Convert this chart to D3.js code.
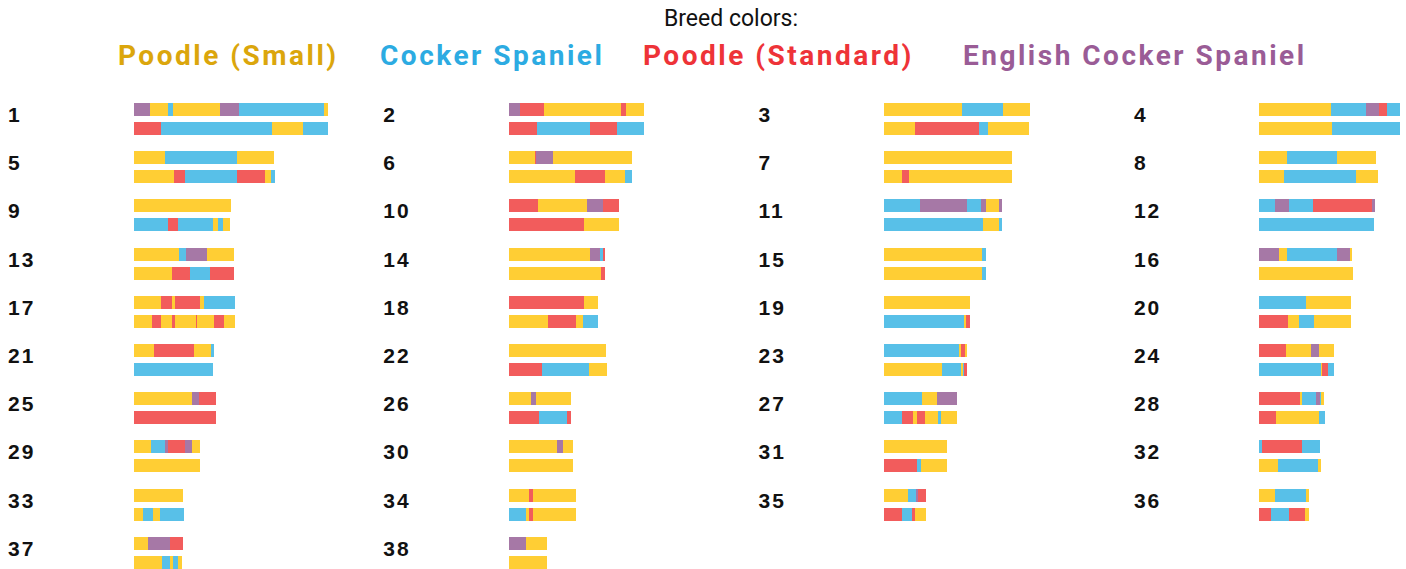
<!DOCTYPE html>
<html>
<head>
<meta charset="utf-8">
<script src="https://cdn.jsdelivr.net/npm/d3@7"></script>
<style>
  body { margin: 0; background: #fff; }
  svg { display: block; }
</style>
</head>
<body>
<div id="chart"></div>
<script>
'use strict';

// breed codes -> names and colours
var breedCodes = ['S', 'C', 'P', 'E'];
var breedNames = ['Poodle (Small)', 'Cocker Spaniel', 'Poodle (Standard)', 'English Cocker Spaniel'];
var barColors = ['#ffce34', '#58c0e8', '#f25c5c', '#a678a6'];
var labelColors = ['#dba60c', '#2cabe2', '#ee3338', '#9a5c96'];

var chromosomes = d3.range(1, 39);

// segment lengths (Mb) along each copy
var copyA = [
  [['E', 10.1], ['S', 11.9], ['C', 3.1], ['S', 29.6], ['E', 11.9], ['C', 53.5], ['S', 1.9]],
  [['E', 6.9], ['P', 15.1], ['S', 48.4], ['P', 3.1], ['S', 11.3]],
  [['S', 49.1], ['C', 25.8], ['S', 17.0]],
  [['S', 45.3], ['C', 22.0], ['E', 8.2], ['P', 5.0], ['C', 8.2]],
  [['S', 19.5], ['C', 45.3], ['S', 23.3]],
  [['S', 16.4], ['P', 1.0], ['E', 10.3], ['S', 49.7]],
  [['S', 80.5]],
  [['S', 17.6], ['C', 31.4], ['S', 24.5]],
  [['S', 61.0]],
  [['P', 18.2], ['S', 30.8], ['E', 10.1], ['P', 10.1]],
  [['C', 22.6], ['E', 29.6], ['C', 8.8], ['E', 3.1], ['S', 8.2], ['E', 1.9]],
  [['C', 10.1], ['E', 8.8], ['C', 14.5], ['P', 37.7], ['E', 1.3]],
  [['S', 28.9], ['C', 4.4], ['E', 13.2], ['S', 16.4]],
  [['S', 50.9], ['E', 6.3], ['C', 1.9], ['P', 1.3]],
  [['S', 61.6], ['C', 2.5]],
  [['E', 12.6], ['S', 5.0], ['C', 31.4], ['E', 8.2], ['S', 1.3]],
  [['S', 17.6], ['P', 6.3], ['S', 2.5], ['P', 15.7], ['S', 2.5], ['C', 19.5]],
  [['P', 47.2], ['S', 8.8]],
  [['S', 54.1]],
  [['C', 29.6], ['S', 28.3]],
  [['S', 12.6], ['P', 25.2], ['S', 10.7], ['C', 1.9]],
  [['S', 61.0]],
  [['C', 47.2], ['S', 1.3], ['P', 2.5], ['S', 1.3]],
  [['P', 17.0], ['S', 15.7], ['E', 5.0], ['S', 9.4]],
  [['S', 36.5], ['E', 4.6], ['P', 10.5]],
  [['S', 13.8], ['E', 3.1], ['S', 22.0]],
  [['C', 23.9], ['S', 9.4], ['E', 12.6]],
  [['P', 25.8], ['S', 1.3], ['C', 8.8], ['E', 2.5], ['C', 0.6], ['S', 1.9]],
  [['S', 11.3], ['C', 8.8], ['E', 1.9], ['P', 10.1], ['E', 5.0], ['S', 5.0]],
  [['S', 30.2], ['E', 3.8], ['S', 6.3]],
  [['S', 39.6]],
  [['C', 1.9], ['P', 25.2], ['C', 11.3]],
  [['S', 31.4]],
  [['S', 12.6], ['P', 2.5], ['S', 27.0]],
  [['S', 15.1], ['C', 5.0], ['E', 1.3], ['P', 5.0]],
  [['S', 10.1], ['C', 18.9], ['S', 1.9]],
  [['S', 9.4], ['E', 13.8], ['P', 8.2]],
  [['E', 10.7], ['S', 13.2]]
];

var copyB = [
  [['P', 17.6], ['C', 69.2], ['S', 19.5], ['C', 15.7]],
  [['P', 17.6], ['C', 33.3], ['P', 17.0], ['C', 17.0]],
  [['S', 19.5], ['P', 40.3], ['C', 5.7], ['S', 25.8]],
  [['S', 45.9], ['C', 42.8]],
  [['S', 25.2], ['P', 7.5], ['C', 32.7], ['P', 17.0], ['S', 3.8], ['C', 2.5]],
  [['S', 41.5], ['P', 18.9], ['S', 12.6], ['C', 4.4]],
  [['S', 11.3], ['P', 4.4], ['S', 64.8]],
  [['S', 15.7], ['C', 45.3], ['S', 13.8]],
  [['C', 21.4], ['P', 6.3], ['C', 22.6], ['S', 3.1], ['C', 3.1], ['S', 4.4]],
  [['P', 47.2], ['S', 22.0]],
  [['C', 62.3], ['S', 10.1], ['C', 1.9]],
  [['C', 72.3]],
  [['S', 24.5], ['P', 11.3], ['C', 12.6], ['P', 14.5]],
  [['S', 57.9], ['P', 2.5]],
  [['S', 61.6], ['C', 2.5]],
  [['S', 59.1]],
  [['S', 11.9], ['P', 5.7], ['S', 6.3], ['P', 2.5], ['S', 13.2], ['P', 0.6], ['S', 10.7], ['P', 6.3], ['S', 6.9]],
  [['S', 24.5], ['P', 17.6], ['S', 4.4], ['C', 9.4]],
  [['C', 50.3], ['S', 1.3], ['P', 2.5]],
  [['P', 18.2], ['S', 6.9], ['C', 9.4], ['S', 23.3]],
  [['C', 50.3]],
  [['P', 20.8], ['C', 29.6], ['S', 11.3]],
  [['S', 36.5], ['C', 11.9], ['S', 1.3], ['C', 0.6], ['P', 1.9]],
  [['C', 39.0], ['S', 0.6], ['P', 3.8], ['C', 3.8]],
  [['P', 51.6]],
  [['P', 18.9], ['C', 17.6], ['P', 2.5]],
  [['C', 11.3], ['P', 6.9], ['S', 2.5], ['P', 5.0], ['S', 8.2], ['C', 1.9], ['S', 10.1]],
  [['P', 10.7], ['S', 27.0], ['C', 3.8]],
  [['S', 42.1]],
  [['S', 40.3]],
  [['P', 20.8], ['C', 2.5], ['S', 16.4]],
  [['S', 11.9], ['C', 25.2], ['S', 1.9]],
  [['S', 5.7], ['C', 6.3], ['S', 4.4], ['C', 15.1]],
  [['C', 10.7], ['S', 1.9], ['P', 2.5], ['S', 27.0]],
  [['P', 11.3], ['C', 6.3], ['P', 1.9], ['S', 6.9]],
  [['P', 7.5], ['C', 11.3], ['P', 10.1], ['S', 2.5]],
  [['S', 18.2], ['C', 5.0], ['S', 1.9], ['C', 3.1], ['S', 2.5]],
  [['S', 23.9]]
];

var width = 1406;
var height = 569;

var svg = d3.select('#chart').append('svg').attr('width', width).attr('height', height);

var color = d3.scaleOrdinal().domain(breedCodes).range(barColors);
var x = d3.scaleLinear().domain([0, 122]).range([0, 194]);

var cols = 4;
var colX = d3.scaleLinear().domain([0, 1]).range([8, 383.3]);
var rowY = d3.scaleLinear().domain([0, 1]).range([103, 151.2]);
var barOffset = 125.5;
var barH = 13;
var copyGap = 19;

// legend
svg.append('text')
  .attr('x', 731).attr('y', 26)
  .attr('text-anchor', 'middle')
  .style('font', '23px Roboto, sans-serif')
  .style('fill', '#111')
  .text('Breed colors:');

var legendX = [118, 380, 643, 963];
svg.selectAll('.legend').data(breedNames).enter().append('text')
  .attr('class', 'legend')
  .attr('x', function (d, i) { return legendX[i]; })
  .attr('y', 65)
  .style('font', 'bold 28px Roboto, sans-serif')
  .style('letter-spacing', '2.5px')
  .style('fill', function (d, i) { return labelColors[i]; })
  .text(function (d) { return d; });

// one group per chromosome
function segments(list) {
  var pos = 0;
  return list.map(function (s) {
    var seg = { breed: s[0], start: pos, len: s[1] };
    pos += s[1];
    return seg;
  });
}

var data = chromosomes.map(function (c, i) {
  return { id: c, copies: [segments(copyA[i]), segments(copyB[i])] };
});

var chrom = svg.selectAll('.chrom').data(data).enter().append('g')
  .attr('class', 'chrom')
  .attr('transform', function (d, i) {
    return 'translate(' + colX(i % cols) + ',' + rowY(Math.floor(i / cols)) + ')';
  });

chrom.append('text')
  .attr('x', 0).attr('y', 19)
  .style('font', 'bold 21px "Liberation Sans", Arial, sans-serif')
  .style('letter-spacing', '2px')
  .style('fill', '#111')
  .text(function (d) { return d.id; });

var copy = chrom.selectAll('.copy').data(function (d) { return d.copies; }).enter().append('g')
  .attr('class', 'copy')
  .attr('transform', function (d, j) { return 'translate(' + barOffset + ',' + (j * copyGap) + ')'; });

copy.selectAll('rect').data(function (d) { return d; }).enter().append('rect')
  .attr('x', function (d) { return x(d.start); })
  .attr('y', 0)
  .attr('width', function (d) { return x(d.len); })
  .attr('height', barH)
  .attr('shape-rendering', 'crispEdges')
  .style('fill', function (d) { return color(d.breed); });
</script>
</body>
</html>
